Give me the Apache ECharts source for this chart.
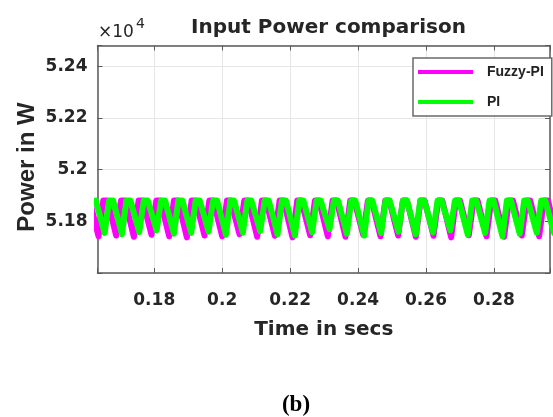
<!DOCTYPE html>
<html>
<head>
<meta charset="utf-8">
<script src="https://cdn.jsdelivr.net/npm/echarts@6/dist/echarts.min.js"></script>
<style>
html,body{margin:0;padding:0;background:#fff;}
#c{width:553px;height:417px;}
</style>
</head>
<body>
<div id="c"></div>
<script>
// ---- data ----
const xTickLabels = ['0.18', '0.2', '0.22', '0.24', '0.26', '0.28'];
const yTickLabels = ['5.18', '5.2', '5.22', '5.24']; // x 10^4 W
const seriesNames = ['Fuzzy-PI', 'PI'];

const fuzzyTime = [
  0.1610,0.1636,0.1650, 0.1662,0.1688,0.1702, 0.1714,0.1740,0.1754, 0.1766,0.1792,0.1806,
  0.1818,0.1844,0.1858, 0.1870,0.1896,0.1910, 0.1922,0.1948,0.1962, 0.1974,0.2000,0.2014,
  0.2025,0.2051,0.2065, 0.2077,0.2103,0.2117, 0.2129,0.2155,0.2169, 0.2181,0.2207,0.2221,
  0.2233,0.2259,0.2273, 0.2285,0.2311,0.2325, 0.2337,0.2363,0.2377, 0.2389,0.2415,0.2429,
  0.2440,0.2466,0.2480, 0.2492,0.2518,0.2532, 0.2544,0.2570,0.2584, 0.2596,0.2622,0.2636,
  0.2648,0.2674,0.2688, 0.2700,0.2726,0.2740, 0.2752,0.2778,0.2792, 0.2804,0.2830,0.2844,
  0.2856,0.2882,0.2896, 0.2907,0.2933,0.2947, 0.2959,0.2985
];
const fuzzyPower = [
  51880,51742,51880, 51880,51745,51880, 51880,51740,51880, 51880,51748,51880,
  51880,51742,51880, 51880,51738,51880, 51880,51745,51880, 51880,51742,51880,
  51880,51750,51880, 51880,51740,51880, 51880,51744,51880, 51880,51738,51880,
  51880,51746,51880, 51880,51742,51880, 51880,51740,51880, 51880,51748,51880,
  51880,51742,51880, 51880,51745,51880, 51880,51740,51880, 51880,51744,51880,
  51880,51738,51880, 51880,51746,51880, 51880,51742,51880, 51880,51740,51880,
  51880,51745,51880, 51880,51742,51880, 51880,51744
];
const piTime = [
  0.1628,0.1654,0.1667, 0.1679,0.1705,0.1718, 0.1730,0.1756,0.1769, 0.1781,0.1807,0.1820,
  0.1832,0.1858,0.1871, 0.1883,0.1909,0.1922, 0.1934,0.1960,0.1973, 0.1985,0.2011,0.2024,
  0.2035,0.2061,0.2074, 0.2086,0.2112,0.2125, 0.2137,0.2163,0.2176, 0.2188,0.2214,0.2227,
  0.2239,0.2265,0.2278, 0.2290,0.2316,0.2329, 0.2341,0.2367,0.2380, 0.2392,0.2418,0.2431,
  0.2442,0.2468,0.2481, 0.2493,0.2519,0.2532, 0.2544,0.2570,0.2583, 0.2595,0.2621,0.2634,
  0.2646,0.2672,0.2685, 0.2697,0.2723,0.2736, 0.2748,0.2774,0.2787, 0.2799,0.2825,0.2838,
  0.2850,0.2876,0.2889, 0.2900,0.2926,0.2939, 0.2951,0.2977
];
const piPower = [
  51880,51755,51880, 51880,51750,51880, 51880,51758,51880, 51880,51765,51880,
  51880,51752,51880, 51880,51755,51880, 51880,51760,51880, 51880,51748,51880,
  51880,51756,51880, 51880,51762,51880, 51880,51750,51880, 51880,51745,51880,
  51880,51758,51880, 51880,51770,51880, 51880,51752,51880, 51880,51745,51880,
  51880,51755,51880, 51880,51760,51880, 51880,51750,51880, 51880,51757,51880,
  51880,51765,51880, 51880,51748,51880, 51880,51755,51880, 51880,51742,51880,
  51880,51752,51880, 51880,51756,51880, 51880,51755
];

// ---- chart ----
const pairs = (t, v) => t.map((x, i) => [x, v[i]]);
const near = (val, labels, scale) => {
  for (const l of labels) { if (Math.abs(parseFloat(l) * scale - val) < 1e-6 * Math.max(1, scale)) return l; }
  return '';
};
const AX = '#5a5a5a';
const TXT = '#262626';
const tickFont = { fontFamily: 'DejaVu Sans', fontWeight: 'bold', fontSize: 17, color: TXT };

const chart = echarts.init(document.getElementById('c'), null, { renderer: 'canvas' });
chart.setOption({
  backgroundColor: '#ffffff',
  animation: false,
  title: {
    text: 'Input Power comparison',
    left: 186, top: 13,
    textStyle: { fontFamily: 'DejaVu Sans', fontWeight: 'bold', fontSize: 20, color: TXT }
  },
  grid: { left: 97.5, right: 1.5, top: 45.5, bottom: 144, containLabel: false },
  legend: {
    data: seriesNames,
    orient: 'vertical',
    left: 413, top: 58,
    icon: 'rect', itemWidth: 55, itemHeight: 4, itemGap: 14,
    padding: [6, 8, 6, 5],
    backgroundColor: '#ffffff',
    borderColor: '#6a6a6a', borderWidth: 1.5, borderRadius: 0,
    textStyle: { fontFamily: 'Liberation Sans', fontWeight: 'bold', fontSize: 14, color: '#222', lineHeight: 16, padding: [0, 0, 0, 9] }
  },
  xAxis: [{
    type: 'value', position: 'bottom',
    min: 0.1633, max: 0.2965, splitNumber: 7,
    name: 'Time in secs', nameLocation: 'middle', nameGap: 47,
    nameTextStyle: { fontFamily: 'DejaVu Sans', fontWeight: 'bold', fontSize: 20, color: TXT },
    axisLine: { show: true, onZero: false, lineStyle: { color: AX, width: 1.5 } },
    axisTick: { show: true, inside: true, length: 5, lineStyle: { color: AX, width: 1 } },
    axisLabel: Object.assign({ margin: 19, showMinLabel: true, showMaxLabel: true,
      formatter: v => near(v, xTickLabels, 1) }, tickFont),
    splitLine: { show: true, lineStyle: { color: '#e6e6e6', width: 1 } }
  }, {
    type: 'value', position: 'top',
    min: 0.1633, max: 0.2965, splitNumber: 7,
    axisLine: { show: true, onZero: false, lineStyle: { color: AX, width: 1.5 } },
    axisTick: { show: true, inside: true, length: 5, lineStyle: { color: AX, width: 1 } },
    axisLabel: { show: false }, splitLine: { show: false }
  }],
  yAxis: [{
    type: 'value', position: 'left',
    min: 51600, max: 52480, interval: 200,
    axisLine: { show: true, onZero: false, lineStyle: { color: AX, width: 1.5 } },
    axisTick: { show: true, inside: true, length: 5, lineStyle: { color: AX, width: 1 } },
    axisLabel: Object.assign({ margin: 10, padding: [7, 0, 0, 0],
      formatter: v => near(v, yTickLabels, 10000) }, tickFont),
    splitLine: { show: true, lineStyle: { color: '#e6e6e6', width: 1 } }
  }, {
    type: 'value', position: 'right',
    min: 51600, max: 52480, interval: 200,
    axisLine: { show: true, onZero: false, lineStyle: { color: AX, width: 1.5 } },
    axisTick: { show: true, inside: true, length: 5, lineStyle: { color: AX, width: 1 } },
    axisLabel: { show: false }, splitLine: { show: false }
  }],
  graphic: [
    { type: 'text', left: 98, top: 24, silent: true,
      style: { text: '×10', fontFamily: 'DejaVu Sans', fontSize: 17, fill: TXT } },
    { type: 'text', left: 136, top: 17, silent: true,
      style: { text: '4', fontFamily: 'DejaVu Sans', fontSize: 14, fill: TXT } },
    { type: 'text', x: 27, y: 167, rotation: Math.PI / 2, silent: true,
      style: { text: 'Power in W', fontFamily: 'Liberation Sans', fontWeight: 'bold', fontSize: 24,
        fill: TXT, textAlign: 'center', textVerticalAlign: 'middle' } },
    { type: 'text', x: 296, y: 405, silent: true,
      style: { text: '(b)', fontFamily: 'Liberation Serif', fontWeight: 'bold', fontSize: 23,
        fill: '#000', textAlign: 'center', textVerticalAlign: 'middle' } }
  ],
  series: [{
    name: seriesNames[0], type: 'line', xAxisIndex: 0, yAxisIndex: 0,
    data: pairs(fuzzyTime, fuzzyPower), showSymbol: false, symbol: 'none', clip: true,
    lineStyle: { color: '#ff00ff', width: 6, join: 'round', cap: 'round' }, itemStyle: { color: '#ff00ff' }
  }, {
    name: seriesNames[1], type: 'line', xAxisIndex: 0, yAxisIndex: 0,
    data: pairs(piTime, piPower), showSymbol: false, symbol: 'none', clip: true,
    lineStyle: { color: '#00ff00', width: 6, join: 'round', cap: 'round' }, itemStyle: { color: '#00ff00' }
  }]
});
</script>
</body>
</html>
